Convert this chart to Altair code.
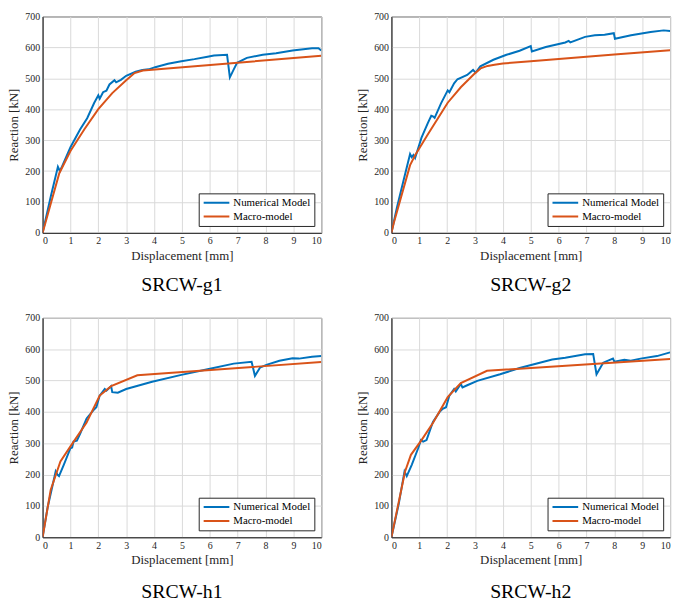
import altair as alt
import pandas as pd

SERIES = ["Numerical Model", "Macro-model"]
COLORS = ["#0072BD", "#D95319"]
TITLES = ["SRCW-g1", "SRCW-g2", "SRCW-h1", "SRCW-h2"]

# SRCW-g1
g1_num_x = [0, 0.1, 0.3, 0.55, 0.62, 0.7, 1.0, 1.35, 1.6, 1.85, 2.0, 2.05, 2.17, 2.29, 2.4, 2.58, 2.64, 2.81, 3.0, 3.34, 3.58, 3.81, 4.04, 4.5, 4.98, 5.45, 5.92, 6.15, 6.62, 6.72, 6.86, 6.98, 7.33, 7.9, 8.38, 8.97, 9.67, 9.9, 10]
g1_num_y = [0, 40, 120, 214, 200, 215, 277, 335, 371, 420, 445, 434, 455, 460, 480, 494, 487, 495, 508, 521, 527, 529, 536, 547, 555, 562, 570, 574, 576, 503, 529, 550, 566, 576, 581, 590, 597, 597, 590]
g1_mac_x = [0, 0.1, 0.3, 0.6, 1.0, 1.5, 2.0, 2.5, 3.0, 3.3, 3.6, 10]
g1_mac_y = [0, 32, 97, 193, 265, 335, 400, 452, 494, 517, 525, 573]

# SRCW-g2
g2_num_x = [0, 0.2, 0.45, 0.67, 0.73, 0.79, 0.85, 1.08, 1.31, 1.43, 1.49, 1.55, 1.78, 2.02, 2.08, 2.25, 2.37, 2.72, 2.93, 3.02, 3.19, 3.66, 4.13, 4.6, 5.0, 5.04, 5.54, 6.24, 6.36, 6.42, 6.95, 7.3, 7.65, 7.98, 8.02, 8.6, 9.3, 9.77, 10]
g2_num_y = [0, 83, 175, 255, 245, 252, 242, 308, 356, 379, 377, 372, 419, 461, 455, 484, 497, 511, 527, 518, 539, 560, 576, 589, 604, 587, 601, 616, 621, 616, 634, 639, 641, 646, 628, 639, 650, 655, 653]
g2_mac_x = [0, 0.08, 0.67, 0.85, 1.31, 2.02, 2.49, 2.96, 3.2, 3.45, 3.7, 4.0, 5.0, 8.0, 10]
g2_mac_y = [0, 30, 219, 251, 319, 421, 471, 513, 532, 540, 544, 548, 555, 577, 591]

# SRCW-h1
h1_num_x = [0, 0.18, 0.47, 0.53, 0.59, 0.76, 1.0, 1.06, 1.11, 1.23, 1.35, 1.58, 1.82, 1.93, 2.05, 2.23, 2.29, 2.46, 2.5, 2.7, 3.0, 3.93, 4.98, 5.92, 6.86, 7.5, 7.62, 7.8, 8.03, 8.5, 8.97, 9.2, 9.67, 10]
h1_num_y = [0, 95, 210, 200, 195, 231, 284, 286, 305, 308, 331, 379, 405, 415, 452, 473, 468, 482, 463, 461, 473, 496, 518, 536, 554, 560, 515, 541, 550, 563, 571, 570, 576, 578]
h1_mac_x = [0, 0.29, 0.64, 1.0, 1.58, 2.05, 2.46, 3.4, 10]
h1_mac_y = [0, 151, 242, 290, 366, 452, 482, 517, 559]

# SRCW-h2
h2_num_x = [0, 0.26, 0.47, 0.55, 0.73, 0.96, 1.06, 1.14, 1.26, 1.49, 1.73, 1.84, 1.96, 2.08, 2.25, 2.31, 2.49, 2.55, 2.72, 3.08, 3.9, 4.6, 5.77, 6.24, 6.95, 7.24, 7.36, 7.6, 7.95, 8.0, 8.36, 8.59, 8.94, 9.53, 10]
h2_num_y = [0, 105, 210, 195, 231, 284, 310, 305, 310, 368, 400, 410, 415, 452, 473, 465, 489, 478, 485, 499, 520, 540, 567, 573, 584, 585, 520, 557, 570, 560, 566, 563, 570, 578, 590]
h2_mac_x = [0, 0.49, 0.7, 1.08, 1.5, 2.02, 2.49, 3.43, 10]
h2_mac_y = [0, 210, 263, 310, 366, 447, 492, 531, 569]

X_TICKS = list(range(0, 11))
Y_TICKS = list(range(0, 701, 100))

FONT = "Liberation Serif"
W = 282
H_TOP, H_BOTTOM = 219, 222


def make_df(nx, ny, mx, my):
    rows = []
    for i, (a, b) in enumerate(zip(nx, ny)):
        rows.append({"x": a, "y": b, "series": SERIES[0], "i": i})
    for i, (a, b) in enumerate(zip(mx, my)):
        rows.append({"x": a, "y": b, "series": SERIES[1], "i": i})
    return pd.DataFrame(rows)


def panel(nx, ny, mx, my, title, h, title_offset):
    df = make_df(nx, ny, mx, my)
    return alt.Chart(df).mark_line(strokeWidth=2, clip=True).encode(
        x=alt.X("x:Q", scale=alt.Scale(domain=[0, 10], nice=False),
                axis=alt.Axis(title="Displacement [mm]", values=X_TICKS, format="d")),
        y=alt.Y("y:Q", scale=alt.Scale(domain=[0, 700], nice=False),
                axis=alt.Axis(title="Reaction [kN]", values=Y_TICKS, format="d")),
        color=alt.Color("series:N", scale=alt.Scale(domain=SERIES, range=COLORS),
                        legend=alt.Legend(title=None, orient="none", legendX=158, legendY=h - 40,
                                          symbolType="stroke", symbolSize=676,
                                          symbolStrokeWidth=2, clipHeight=11,
                                          labelFont=FONT, labelFontSize=11, labelColor="#000",
                                          strokeColor="#262626", fillColor="white",
                                          padding=4, rowPadding=2, labelOffset=3)),
        order="i:Q",
    ).properties(
        width=W, height=h,
        title=alt.TitleParams(title, orient="bottom", font=FONT, fontSize=20,
                              fontWeight="normal", color="#000", offset=title_offset,
                              anchor="middle", frame="group"),
    )


p1 = panel(g1_num_x, g1_num_y, g1_mac_x, g1_mac_y, TITLES[0], H_TOP, 13)
p2 = panel(g2_num_x, g2_num_y, g2_mac_x, g2_mac_y, TITLES[1], H_TOP, 13)
p3 = panel(h1_num_x, h1_num_y, h1_mac_x, h1_mac_y, TITLES[2], H_BOTTOM, 15)
p4 = panel(h2_num_x, h2_num_y, h2_mac_x, h2_mac_y, TITLES[3], H_BOTTOM, 15)

chart = alt.concat(
    p1, p2, p3, p4, columns=2, bounds="flush",
    spacing={"row": 86, "column": 71},
).resolve_scale(color="independent").properties(
    autosize=alt.AutoSizeParams(type="none"),
    padding={"left": 35, "top": 5, "right": 642, "bottom": 592},
).configure_view(
    stroke="#262626", strokeWidth=1
).configure_axis(
    labelFont=FONT, labelFontSize=10, labelColor="#262626",
    titleFont=FONT, titleFontSize=13, titleFontWeight="normal", titleColor="#262626",
    grid=True, gridColor="#d9d9d9", gridWidth=1,
    domainColor="#262626", ticks=False, labelPadding=3, titlePadding=4,
)

chart.save("out.html", embed_options={"renderer": "svg", "actions": False})
